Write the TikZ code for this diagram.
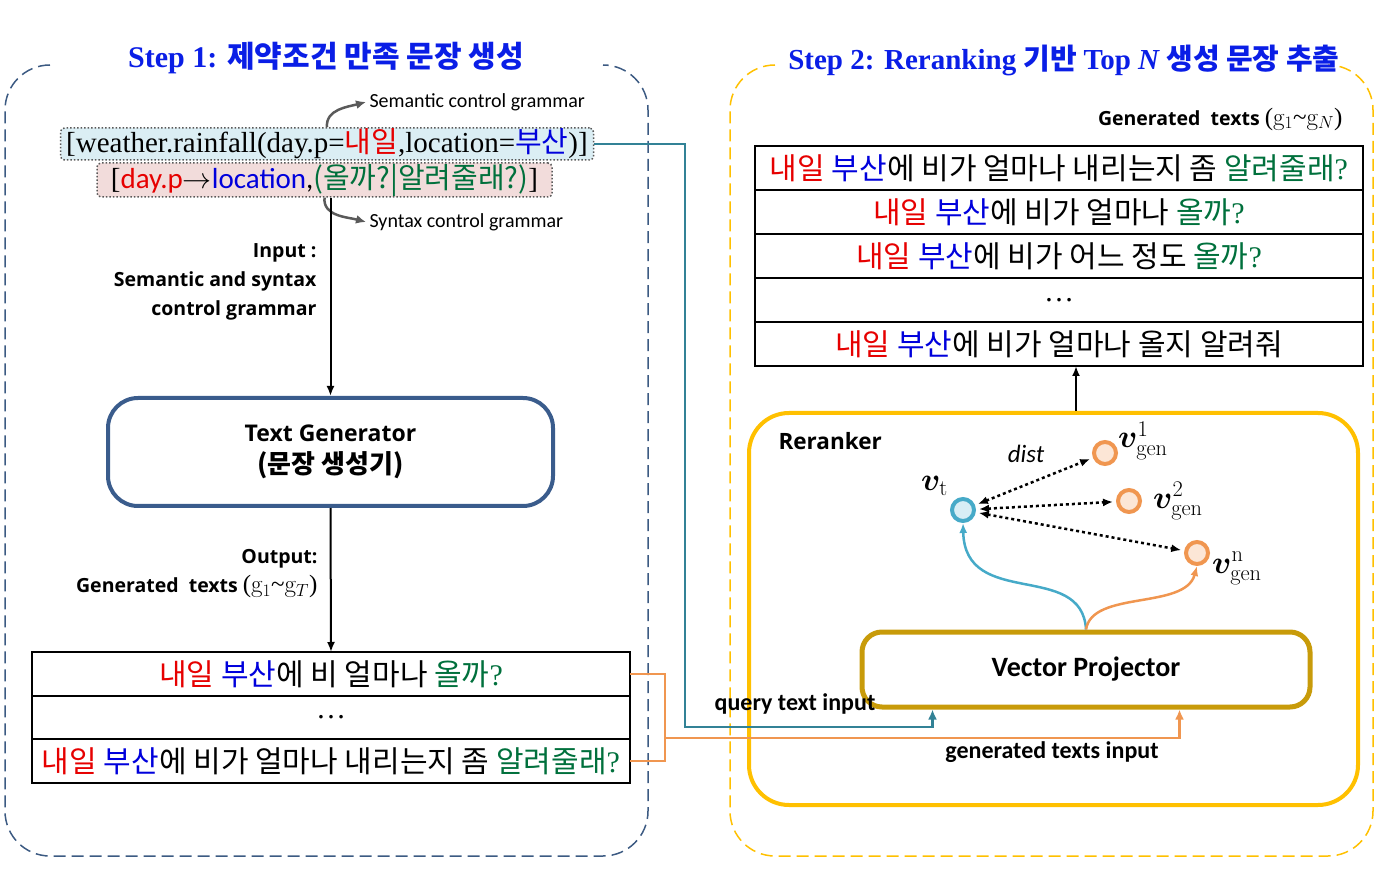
\RequirePackage{fix-cm}
\documentclass[tikz,border=0pt]{standalone}
\usepackage{fontspec}
\usepackage{bm}
\usetikzlibrary{positioning,arrows.meta}

\newfontfamily\krfont{Noto Sans CJK KR}
\newfontfamily\timesfont{Liberation Serif}
\newfontfamily\calfont{Carlito}
\newfontfamily\segfont{Open Sans}

\definecolor{kred}{RGB}{230,0,0}
\definecolor{kblue}{RGB}{0,0,220}
\definecolor{kgreen}{RGB}{0,112,60}
\definecolor{titleblue}{RGB}{10,30,230}
\definecolor{leftdash}{RGB}{60,90,130}
\definecolor{genblue}{RGB}{58,92,140}
\definecolor{rrgold}{RGB}{255,192,0}
\definecolor{vpgold}{RGB}{200,155,10}
\definecolor{qteal}{RGB}{50,130,150}
\definecolor{gorange}{RGB}{240,150,80}
\definecolor{vtteal}{RGB}{70,170,200}
\definecolor{vtfill}{RGB}{215,238,245}
\definecolor{vgenfill}{RGB}{252,230,214}
\definecolor{gramblue}{RGB}{219,238,244}
\definecolor{grampink}{RGB}{242,220,219}
\definecolor{notegray}{RGB}{90,90,90}

\newcommand{\nbusan}{\textcolor{kred}{내일} \textcolor{kblue}{부산}}
\newcommand{\qmark}{{\timesfont ?}}

\tikzset{
  dashbox/.style={line width=1.5pt, dash pattern=on 12pt off 6pt, rounded corners=45pt},
  steptitle/.style={text=titleblue},
  grambox/.style={draw=notegray, dotted, line width=1.5pt, rounded corners=4pt,
                  inner sep=0pt, font=\fontsize{29}{32}\selectfont},
  rowbox/.style={draw, line width=2pt, minimum height=44pt, outer sep=0pt, inner sep=0pt,
                 font=\krfont\fontsize{30}{32}\selectfont},
  notelabel/.style={font=\calfont\fontsize{20}{22}\selectfont, anchor=west},
  boldlabel/.style={font=\segfont\bfseries\fontsize{19.5}{29}\selectfont, align=right},
  callabel/.style={font=\calfont\bfseries\fontsize{24}{26}\selectfont},
  blackarrow/.style={-{Latex[length=10pt,width=8pt]}, line width=2pt},
  notearrow/.style={-{Latex[length=10pt,width=9pt]}, line width=2.5pt, draw=notegray},
  tealline/.style={line width=2.5pt, draw=qteal},
  orangeline/.style={line width=2.5pt, draw=gorange},
  vnode/.style={circle, line width=4pt, minimum size=22pt, inner sep=0pt},
  vlabel/.style={font=\fontsize{32}{36}\selectfont, inner sep=0pt, anchor=base west},
  distarrow/.style={{Latex[length=10pt,width=8pt]}-{Latex[length=10pt,width=8pt]},
                    line width=2.5pt, dash pattern=on 3pt off 3pt, shorten <=3pt, shorten >=3pt}
}

\begin{document}
\begin{tikzpicture}[x=1pt,y=-1pt]
  \useasboundingbox (0,0) rectangle (1385,890);

  % step frames
  \draw[dashbox, draw=leftdash] (50,65) -| (5,856) -| (648,65) -- (603,65);
  \draw[dashbox, draw=rrgold] (775,65) -| (730,856) -| (1373,65) -- (1328,65);
  \node[steptitle, font=\fontsize{30}{32}\selectfont] (title1) at (326,58)
    {{\timesfont\bfseries Step 1: }{\krfont\bfseries 제약조건 만족 문장 생성}};
  \node[steptitle, font=\fontsize{29}{32}\selectfont] (title2) at (1064,60)
    {{\timesfont\bfseries Step 2: Reranking }{\krfont\bfseries 기반 }{\timesfont\bfseries Top \itshape N }{\krfont\bfseries 생성 문장 추출}};

  % control grammar
  \node[grambox, fill=gramblue, minimum width=533pt, minimum height=32pt] (g1) at (327,144)
    {{\timesfont [weather.rainfall(day.p=}\textcolor{kred}{\krfont 내일}{\timesfont ,location=}\textcolor{kblue}{\krfont 부산}{\timesfont )]}};
  \node[grambox, fill=grampink, minimum width=455pt, minimum height=34pt] (g2) at (324.5,180)
    {{\timesfont [}{\calfont\textcolor{kred}{day.p}$\rightarrow$\textcolor{kblue}{location},}\textcolor{kgreen}{\krfont (올까?|알려줄래?)}{\timesfont ]}};
  \node[notelabel] (semlab) at (366,102) {Semantic control grammar};
  \node[notelabel] (synlab) at (366,222) {Syntax control grammar};
  \draw[notearrow] (g1.north) to[out=95,in=195] (semlab.west);
  \draw[notearrow] (g2.south) to[out=-95,in=165] (synlab.west);

  % text generator
  \node[draw=genblue, line width=4pt, rounded corners=30pt, minimum width=445pt, minimum height=108pt,
        align=center, font=\segfont\bfseries\fontsize{23}{32}\selectfont] (gen) at (330.5,452)
    {Text Generator\\{\krfont\bfseries\fontsize{26}{28}\selectfont (문장 생성기)}};
  \node[boldlabel, anchor=north east] (inlab) at (320,240) {Input :\\Semantic and syntax\\control grammar};
  \draw[blackarrow] (g2.south -| gen.north) -- (gen.north);

  % generated texts (step 1)
  \node[rowbox, minimum width=598pt] (l1) at (331,674) {\nbusan{}에 비 얼마나 \textcolor{kgreen}{올까\qmark}};
  \node[rowbox, minimum width=598pt, minimum height=43pt, below=0pt of l1] (l2) {{\timesfont …}};
  \node[rowbox, minimum width=598pt, below=0pt of l2] (l3) {\nbusan{}에 비가 얼마나 내리는지 좀 \textcolor{kgreen}{알려줄래\qmark}};
  \node[boldlabel, anchor=north east] (outlab) at (321,546)
    {Output:\\Generated\ \ texts {\mdseries\timesfont\fontsize{25}{29}\selectfont ($\mathrm{g}_1$\mbox{\textasciitilde}$\mathrm{g}_{T}$)}};
  \draw[blackarrow] (gen.south) -- (l1.north);

  % reranker
  \node[draw=rrgold, line width=4pt, rounded corners=40pt, minimum width=609pt, minimum height=392pt] (rr) at (1053.5,609) {};
  \node[font=\segfont\bfseries\fontsize{22.5}{24}\selectfont, anchor=west] (rrlab) at (775,441) {Reranker};
  \node[draw=vpgold, line width=5pt, rounded corners=20pt, minimum width=448pt, minimum height=75pt,
        font=\calfont\bfseries\fontsize{28}{30}\selectfont] (vp) at (1086,669.5) {Vector Projector};

  \node[vnode, draw=vtteal, fill=vtfill] (vt) at (963,510) {};
  \node[vnode, draw=gorange, fill=vgenfill] (v1) at (1105,453) {};
  \node[vnode, draw=gorange, fill=vgenfill] (v2) at (1129,501) {};
  \node[vnode, draw=gorange, fill=vgenfill] (vn) at (1197,553) {};
  \node[vlabel] (vtlab) at (921,491) {$\bm{v}_{\mathrm{t}}$};
  \node[vlabel] (v1lab) at ([xshift=0pt,yshift=5pt]v1.east) {$\bm{v}_{\mathrm{gen}}^{1}$};
  \node[vlabel] (v2lab) at ([xshift=11pt,yshift=-7pt]v2.east) {$\bm{v}_{\mathrm{gen}}^{2}$};
  \node[vlabel] (vnlab) at ([xshift=2pt,yshift=-20pt]vn.east) {$\bm{v}_{\mathrm{gen}}^{\mathrm{n}}$};
  \node[font=\calfont\itshape\fontsize{25}{26}\selectfont] (distlab) at (1026,454) {dist};

  \draw[distarrow] (vt) -- (v1);
  \draw[distarrow] (vt) -- (v2);
  \draw[distarrow] (vt) -- (vn);
  \draw[line width=2.5pt, draw=vtteal, -{Latex[length=10pt,width=8pt]}]
    (vp.north) .. controls (1082,560) and (965,610) .. (vt.south);
  \draw[orangeline, -{Latex[length=10pt,width=8pt]}]
    (vp.north) .. controls (1092,590) and (1185,610) .. (vn.south);

  % generated texts (step 2)
  \node[rowbox, minimum width=608pt] (r1) at (1059,168) {\nbusan{}에 비가 얼마나 내리는지 좀 \textcolor{kgreen}{알려줄래\qmark}};
  \node[rowbox, minimum width=608pt, below=0pt of r1] (r2) {\nbusan{}에 비가 얼마나 \textcolor{kgreen}{올까\qmark}};
  \node[rowbox, minimum width=608pt, below=0pt of r2] (r3) {\nbusan{}에 비가 어느 정도 \textcolor{kgreen}{올까\qmark}};
  \node[rowbox, minimum width=608pt, below=0pt of r3] (r4) {{\timesfont …}};
  \node[rowbox, minimum width=608pt, below=0pt of r4] (r5) {\nbusan{}에 비가 얼마나 올지 알려줘};
  \node[boldlabel, anchor=east] (toplab) at (1346,119)
    {Generated\ \ texts {\mdseries\timesfont\fontsize{25}{29}\selectfont ($\mathrm{g}_1$\mbox{\textasciitilde}$\mathrm{g}_{N}$)}};
  \coordinate (up) at ([xshift=17pt]r5.south);
  \draw[blackarrow] (rr.north -| up) -- (up);

  % inputs of the projector
  \coordinate (qbend) at (685,727);
  \coordinate (gbend) at (665,738);
  \draw[tealline, -{Latex[length=10pt,width=9pt]}] (g1.east) -| (qbend) -| ([xshift=73pt]vp.south west);
  \draw[orangeline] (l1.east) -| (gbend) |- (l3.east);
  \draw[orangeline, -{Latex[length=10pt,width=9pt]}] (gbend) -| ([xshift=-133pt]vp.south east);
  \node[callabel] (qlab) at (795,704) {query text input};
  \node[callabel] (glab) at (1052,752) {generated texts input};
\end{tikzpicture}
\end{document}
